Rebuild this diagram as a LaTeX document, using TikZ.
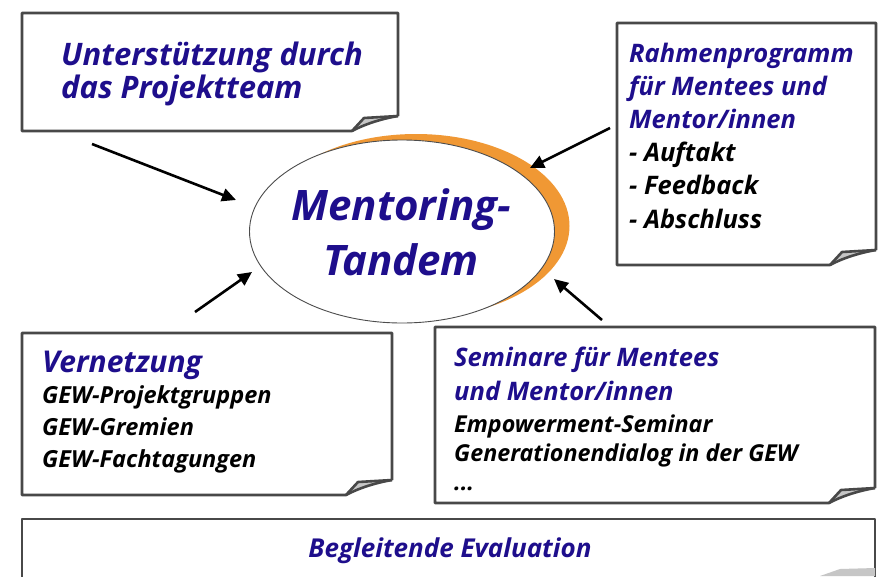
\documentclass[tikz,border=0pt]{standalone}
\usepackage{fontspec}
\setmainfont{Open Sans}
\usetikzlibrary{shapes.geometric,arrows.meta}
\definecolor{tblue}{RGB}{30,14,140}
\definecolor{frm}{RGB}{72,72,72}
\definecolor{orng}{RGB}{240,152,52}
\newcommand\curlbox[4]{%
  \fill[white] (#1,#2) -- (#3,#2) -- (#3,{#4-15}) .. controls ({#3-18},{#4-12}) and ({#3-35},{#4-6}) .. ({#3-46},#4) -- (#1,#4) -- cycle;
  \fill[gray!45] ({#3-46},#4) -- ({#3-34},{#4-13}) -- (#3,{#4-15}) .. controls ({#3-18},{#4-12}) and ({#3-35},{#4-6}) .. ({#3-46},#4) -- cycle;
  \draw[boxline] ({#3-46},#4) -- ({#3-34},{#4-13}) -- (#3,{#4-15});
  \draw[boxline] (#3,{#4-15}) -- (#3,#2) -- (#1,#2) -- (#1,#4) -- ({#3-46},#4) .. controls ({#3-35},{#4-6}) and ({#3-18},{#4-12}) .. (#3,{#4-15});
}
\begin{document}
\begin{tikzpicture}[x=1pt,y=-1pt,
  boxline/.style={draw=frm,line width=2.6pt,line join=round},
  arr/.style={line width=2.6pt,-{Triangle[length=14pt,width=13pt]}},
  txt/.style={anchor=base west,align=left,inner sep=0pt,font=\bfseries\itshape},
  head/.style={text=tblue}]
\useasboundingbox (0,0) rectangle (885,576);
\fill[white] (0,0) rectangle (885,576);

% boxes
\curlbox{22}{13}{398}{131}
\curlbox{617}{23}{876}{265}
\curlbox{22}{333}{392}{495}
\curlbox{435}{327}{875}{503}
% evaluation box
\fill[white] (22,519) rectangle (875,590);
\draw[boxline] (22,590) -- (22,519) -- (875,519) -- (875,590);
\fill[gray!45] (820,576) -- (840,569) -- (875,568) -- (875,576) -- cycle;

% texts (base anchor = baseline of the last line)
\node[txt,head,font=\bfseries\itshape\fontsize{31}{33}\selectfont] (t1) at (61,98)
  {Unterstützung durch\\das Projektteam};
\node[txt,font=\bfseries\itshape\fontsize{25.5}{33.2}\selectfont] (t2) at (629,228)
  {\textcolor{tblue}{Rahmenprogramm}\\\textcolor{tblue}{für Mentees und}\\\textcolor{tblue}{Mentor/innen}\\- Auftakt\\- Feedback\\- Abschluss};
\node[txt,head,font=\bfseries\itshape\fontsize{30}{32}\selectfont] (t3) at (42,372) {Vernetzung};
\node[txt,font=\bfseries\itshape\fontsize{23.5}{32}\selectfont] (t3b) at (42,467)
  {GEW-Projektgruppen\\GEW-Gremien\\GEW-Fachtagungen};
\node[txt,font=\bfseries\itshape\fontsize{25.5}{34}\selectfont] (t4) at (454,400)
  {\textcolor{tblue}{Seminare für Mentees}\\\textcolor{tblue}{und Mentor/innen}};
\node[txt,font=\bfseries\itshape\fontsize{23.3}{29}\selectfont] (t4b) at (454,490)
  {Empowerment-Seminar\\Generationendialog in der GEW\\...};
\node[anchor=base,inner sep=0pt,text=tblue,font=\bfseries\itshape\fontsize{26}{25}\selectfont] (t5) at (450,557)
  {Begleitende Evaluation};

% ellipse
\node[ellipse,fill=orng,minimum width=307pt,minimum height=184pt,inner sep=0pt] (sh) at (416,226) {};
\node[ellipse,fill=white,draw=black!70,line width=0.9pt,minimum width=305pt,minimum height=183pt,inner sep=0pt] (ell) at (402,231.5) {};
\node[anchor=base,inner sep=0pt,text=tblue,font=\bfseries\itshape\fontsize{42}{55}\selectfont,align=center] (tm) at (401,275)
  {Mentoring-\\Tandem};

% arrows
\coordinate (a1) at (92,144);  \coordinate (e1) at (236,200);
\coordinate (a2) at (610,128); \coordinate (e2) at (530,168);
\coordinate (a3) at (195,312); \coordinate (e3) at (252,272);
\coordinate (a4) at (602,320); \coordinate (e4) at (554,279);
\draw[arr] (a1) -- (e1);
\draw[arr] (a2) -- (e2);
\draw[arr] (a3) -- (e3);
\draw[arr] (a4) -- (e4);
\end{tikzpicture}
\end{document}
